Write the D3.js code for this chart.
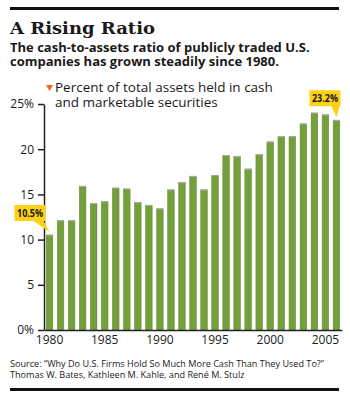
<!DOCTYPE html>
<html>
<head>
<meta charset="utf-8">
<script src="https://cdn.jsdelivr.net/npm/d3@7"></script>
<style>
  body { margin: 0; background: #fff; }
  svg text { font-family: "Open Sans", Roboto, sans-serif; fill: #1a1a1a; }
</style>
</head>
<body>
<div id="chart"></div>
<script>
// cash-to-assets ratio, % of total assets
var years = d3.range(1980, 2007);
var ratio = [10.5, 12.1, 12.1, 15.9, 14.0, 14.2, 15.7, 15.6, 14.1, 13.8, 13.4, 15.5, 16.3, 17.0,
             15.5, 17.1, 19.3, 19.2, 17.8, 19.4, 20.8, 21.4, 21.4, 22.8, 24.0, 23.8, 23.2];
var yTicks = [0, 5, 10, 15, 20, 25];
var xLabels = [1980, 1985, 1990, 1995, 2000, 2005];
var callouts = [{year: 1980, label: "10.5%"}, {year: 2006, label: "23.2%"}];

var width = 350, height = 396;
var margin = {top: 104, right: 8, bottom: 66, left: 44};

var svg = d3.select("#chart").append("svg")
    .attr("width", width)
    .attr("height", height);

var xScale = d3.scaleBand()
    .domain(years)
    .range([margin.left, width - margin.right])
    .paddingInner(0.4)
    .paddingOuter(0.2);

var yScale = d3.scaleLinear()
    .domain([0, 25])
    .range([height - margin.bottom, margin.top]);

// rules top and bottom
svg.append("rect").attr("x", 10).attr("y", 7).attr("width", 329).attr("height", 3).attr("fill", "#111");
svg.append("rect").attr("x", 10).attr("y", 388).attr("width", 329).attr("height", 3).attr("fill", "#111");

svg.append("text")
    .attr("x", 10).attr("y", 34)
    .style("font-family", "'DejaVu Serif', serif")
    .style("font-weight", "bold")
    .style("font-size", "17.5px")
    .attr("textLength", 145)
    .attr("lengthAdjust", "spacingAndGlyphs")
    .text("A Rising Ratio");

// multi-line text as one element with tspans
function lines(x, y, step, arr, size, weight) {
    var t = svg.append("text")
        .attr("x", x).attr("y", y)
        .style("font-size", size)
        .style("font-weight", weight);
    t.selectAll("tspan").data(arr).join("tspan")
        .attr("x", x)
        .attr("dy", (d, i) => i === 0 ? 0 : step)
        .text(d => d);
    return t;
}

var sub = ["The cash-to-assets ratio of publicly traded U.S.",
           "companies has grown steadily since 1980."];
lines(10, 52, 14, sub, "13px", "bold");

// legend
svg.append("path")
    .attr("d", "M46,85 L53,85 L49.5,91 Z")
    .attr("fill", "#f26522");
var leg = ["Percent of total assets held in cash", "and marketable securities"];
lines(55, 92, 15, leg, "13.5px", "normal");

// bars
svg.selectAll(".bar").data(years).join("rect")
    .attr("class", "bar")
    .attr("x", d => xScale(d))
    .attr("y", (d, i) => yScale(ratio[i]))
    .attr("width", xScale.bandwidth())
    .attr("height", (d, i) => yScale(0) - yScale(ratio[i]))
    .attr("fill", "#74a03c")
    .attr("stroke", "#5f8a2d")
    .attr("stroke-width", 0.5);

svg.selectAll(".cap").data(years).join("rect")
    .attr("class", "cap")
    .attr("x", d => xScale(d))
    .attr("y", (d, i) => yScale(ratio[i]) - 0.5)
    .attr("width", xScale.bandwidth())
    .attr("height", 1.2)
    .attr("fill", "#a9a9a9");

// y axis
var yAxis = svg.append("g")
    .attr("transform", `translate(${margin.left},0)`)
    .call(d3.axisLeft(yScale)
        .tickValues(yTicks)
        .tickSize(6)
        .tickSizeOuter(0)
        .tickPadding(4)
        .tickFormat(d => (d === 0 || d === 25) ? d + "%" : d));
yAxis.select(".domain").attr("stroke", "#222").attr("stroke-width", 1.5);
yAxis.selectAll(".tick line").attr("stroke", "#222").attr("stroke-width", 1.5);
yAxis.selectAll(".tick text").style("font-size", "12px").attr("fill", "#1a1a1a");

// x axis
var xAxis = svg.append("g")
    .attr("transform", `translate(0,${yScale(0)})`)
    .call(d3.axisBottom(xScale)
        .tickValues(xLabels)
        .tickSize(0)
        .tickSizeOuter(0)
        .tickPadding(5));
xAxis.select(".domain").attr("stroke", "#222").attr("stroke-width", 1.5);
xAxis.selectAll(".tick text").style("font-size", "12px").attr("fill", "#1a1a1a");

// callouts
callouts.forEach(function(c) {
    var i = years.indexOf(c.year);
    var tipX = xScale(c.year) + xScale.bandwidth() / 2;
    var tipY = yScale(ratio[i]) - 3;
    var bw = 31, bh = 16;
    var bx = c.year === 1980 ? tipX - 35 : tipX - 27;
    var by = tipY - bh - 11;
    var g = svg.append("g");
    var p;
    if (c.year === 1980) {
        p = `M${bx},${by} h${bw} v${bh} h-2 L${tipX},${tipY} L${bx + bw - 12},${by + bh} H${bx} Z`;
    } else {
        p = `M${bx},${by} h${bw} v${bh} H${tipX + 3} L${tipX},${tipY} L${tipX - 5},${by + bh} H${bx} Z`;
    }
    g.append("path").attr("d", p).attr("fill", "#fcd116");
    g.append("text")
        .attr("x", bx + bw / 2)
        .attr("y", by + 12)
        .attr("text-anchor", "middle")
        .style("font-size", "10px")
        .style("font-weight", "bold")
        .attr("textLength", 26)
        .attr("lengthAdjust", "spacingAndGlyphs")
        .text(c.label);
});

// source
var src = ["Source: \u201cWhy Do U.S. Firms Hold So Much More Cash Than They Used To?\u201d",
           "Thomas W. Bates, Kathleen M. Kahle, and Ren\u00e9 M. Stulz"];
lines(10, 367, 11, src, "9.1px", "normal");
</script>
</body>
</html>
